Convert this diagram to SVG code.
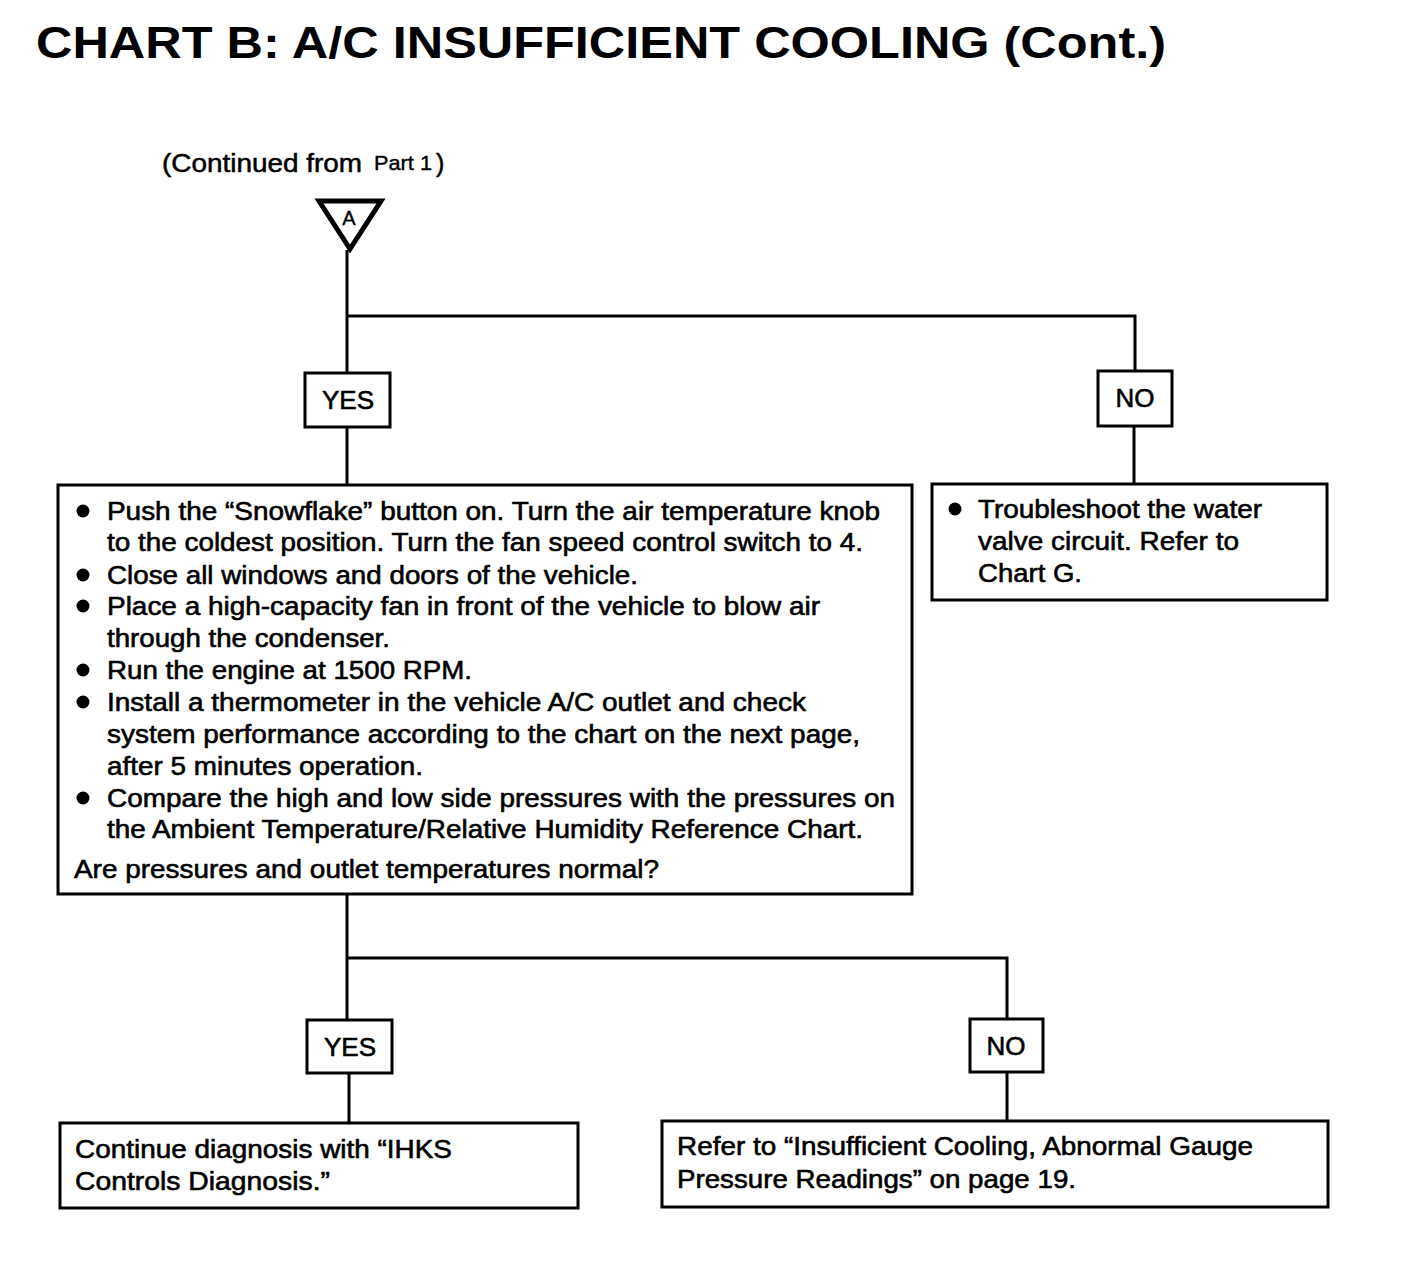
<svg xmlns="http://www.w3.org/2000/svg" width="1408" height="1272" viewBox="0 0 1408 1272">
<style>
text{font-family:"Liberation Sans",Arial,sans-serif;fill:#000;}
.t{font-size:26px;stroke:#000;stroke-width:0.6px;}
.lbl{font-size:26px;text-anchor:middle;stroke:#000;stroke-width:0.6px;}
.box{fill:#fff;stroke:#000;stroke-width:3;}
.ln{fill:none;stroke:#000;stroke-width:3;}
.dot{fill:#000;}
</style>
<rect width="1408" height="1272" fill="#fff"/>
<text x="36" y="58" font-size="44" font-weight="bold" textLength="1130" lengthAdjust="spacingAndGlyphs">CHART B: A/C INSUFFICIENT COOLING (Cont.)</text>
<text x="162" y="172" font-size="25" stroke="#000" stroke-width="0.5" textLength="200" lengthAdjust="spacingAndGlyphs">(Continued from</text>
<text x="374" y="170" font-size="21" stroke="#000" stroke-width="0.4" textLength="58" lengthAdjust="spacingAndGlyphs">Part 1</text>
<text x="436" y="172" font-size="25" stroke="#000" stroke-width="0.5">)</text>

<g id="connectors">
<path class="ln" d="M347 250 V373"/>
<path class="ln" d="M347 316 H1135 V371"/>
<path class="ln" d="M347 427 V485"/>
<path class="ln" d="M1134 426 V484"/>
<path class="ln" d="M347 894 V1020"/>
<path class="ln" d="M347 958 H1007 V1019"/>
<path class="ln" d="M349 1073 V1123"/>
<path class="ln" d="M1007 1072 V1121"/>
</g>

<g id="connectorA">
<polygon points="319,201 381,201 350,249" fill="#fff" stroke="#000" stroke-width="5" stroke-linejoin="miter"/>
<text x="349" y="225" font-size="20" text-anchor="middle" stroke="#000" stroke-width="0.4">A</text>
</g>

<g id="yes1">
<rect class="box" x="305" y="373" width="85" height="54"/>
<text class="lbl" x="348" y="409">YES</text>
</g>
<g id="no1">
<rect class="box" x="1098" y="371" width="74" height="55"/>
<text class="lbl" x="1135" y="407">NO</text>
</g>

<g id="main">
<rect class="box" x="58" y="485" width="854" height="409"/>
<circle class="dot" cx="83" cy="511" r="6.5"/>
<text class="t" x="107" y="520" textLength="773" lengthAdjust="spacingAndGlyphs">Push the “Snowflake” button on. Turn the air temperature knob</text>
<text class="t" x="107" y="551" textLength="756" lengthAdjust="spacingAndGlyphs">to the coldest position. Turn the fan speed control switch to 4.</text>
<circle class="dot" cx="83" cy="575" r="6.5"/>
<text class="t" x="107" y="584" textLength="531" lengthAdjust="spacingAndGlyphs">Close all windows and doors of the vehicle.</text>
<circle class="dot" cx="83" cy="606" r="6.5"/>
<text class="t" x="107" y="615" textLength="713" lengthAdjust="spacingAndGlyphs">Place a high-capacity fan in front of the vehicle to blow air</text>
<text class="t" x="107" y="647" textLength="283" lengthAdjust="spacingAndGlyphs">through the condenser.</text>
<circle class="dot" cx="83" cy="670" r="6.5"/>
<text class="t" x="107" y="679" textLength="365" lengthAdjust="spacingAndGlyphs">Run the engine at 1500 RPM.</text>
<circle class="dot" cx="83" cy="702" r="6.5"/>
<text class="t" x="107" y="711" textLength="699" lengthAdjust="spacingAndGlyphs">Install a thermometer in the vehicle A/C outlet and check</text>
<text class="t" x="107" y="743" textLength="753" lengthAdjust="spacingAndGlyphs">system performance according to the chart on the next page,</text>
<text class="t" x="107" y="775" textLength="316" lengthAdjust="spacingAndGlyphs">after 5 minutes operation.</text>
<circle class="dot" cx="83" cy="798" r="6.5"/>
<text class="t" x="107" y="807" textLength="788" lengthAdjust="spacingAndGlyphs">Compare the high and low side pressures with the pressures on</text>
<text class="t" x="107" y="838" textLength="756" lengthAdjust="spacingAndGlyphs">the Ambient Temperature/Relative Humidity Reference Chart.</text>
<text class="t" x="74" y="878" textLength="585" lengthAdjust="spacingAndGlyphs">Are pressures and outlet temperatures normal?</text>
</g>

<g id="water">
<rect class="box" x="932" y="484" width="395" height="116"/>
<circle class="dot" cx="955" cy="509" r="6.5"/>
<text class="t" x="978" y="518" textLength="284" lengthAdjust="spacingAndGlyphs">Troubleshoot the water</text>
<text class="t" x="978" y="550" textLength="261" lengthAdjust="spacingAndGlyphs">valve circuit. Refer to</text>
<text class="t" x="978" y="582" textLength="104" lengthAdjust="spacingAndGlyphs">Chart G.</text>
</g>

<g id="yes2">
<rect class="box" x="307" y="1020" width="85" height="53"/>
<text class="lbl" x="350" y="1056">YES</text>
</g>
<g id="no2">
<rect class="box" x="970" y="1019" width="73" height="53"/>
<text class="lbl" x="1006" y="1055">NO</text>
</g>

<g id="ihks">
<rect class="box" x="60" y="1123" width="518" height="85"/>
<text class="t" x="75" y="1158" textLength="377" lengthAdjust="spacingAndGlyphs">Continue diagnosis with “IHKS</text>
<text class="t" x="75" y="1190" textLength="255" lengthAdjust="spacingAndGlyphs">Controls Diagnosis.”</text>
</g>

<g id="abnormal">
<rect class="box" x="662" y="1121" width="666" height="86"/>
<text class="t" x="677" y="1155" textLength="576" lengthAdjust="spacingAndGlyphs">Refer to “Insufficient Cooling, Abnormal Gauge</text>
<text class="t" x="677" y="1188" textLength="399" lengthAdjust="spacingAndGlyphs">Pressure Readings” on page 19.</text>
</g>
</svg>
